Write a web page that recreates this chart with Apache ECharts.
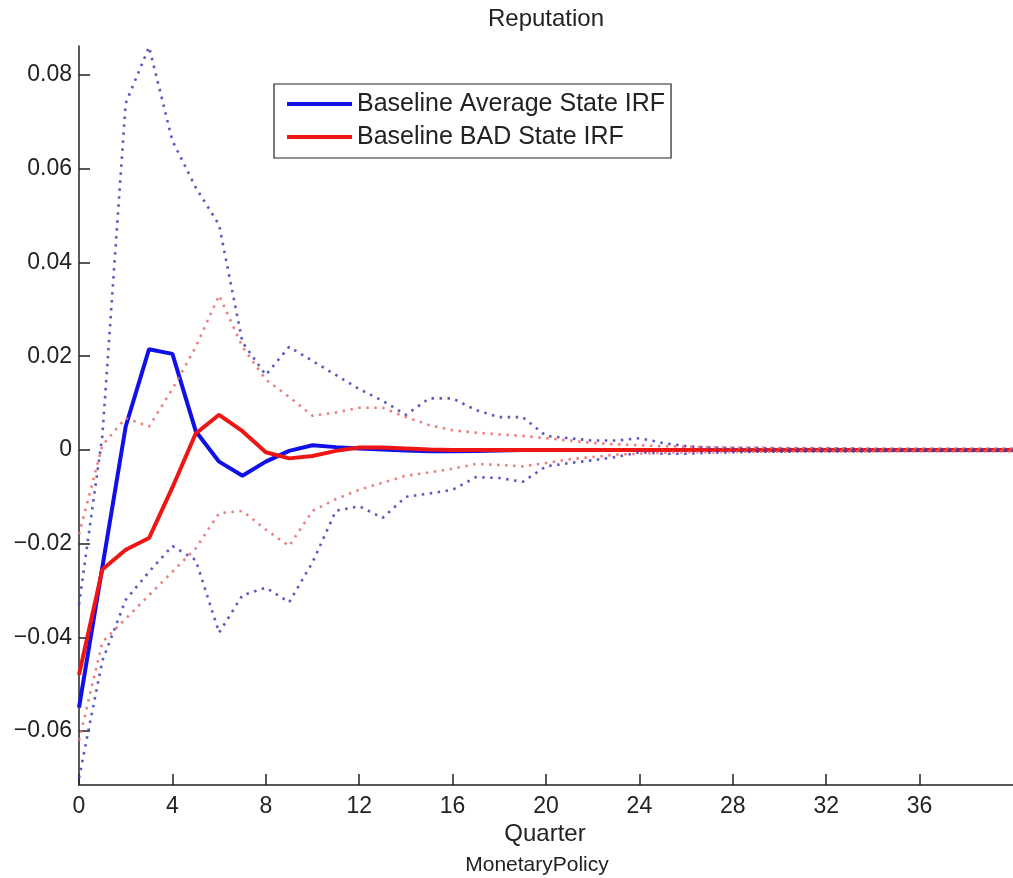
<!DOCTYPE html>
<html>
<head>
<meta charset="utf-8">
<script src="https://cdn.jsdelivr.net/npm/echarts@6/dist/echarts.min.js"></script>
<style>
html,body{margin:0;padding:0;background:#fff;}
#chart{width:1013px;height:878px;}
</style>
</head>
<body>
<div id="chart"></div>
<script>
// Quarters 0..40
const quarters = [0,1,2,3,4,5,6,7,8,9,10,11,12,13,14,15,16,17,18,19,20,21,22,23,24,25,26,27,28,29,30,31,32,33,34,35,36,37,38,39,40];

// Baseline Average State IRF (solid blue)
const avgIRF = [-0.055,-0.025,0.005,0.0215,0.0205,0.004,-0.0025,-0.0055,-0.0025,-0.0002,0.001,0.0006,0.0003,0.0001,-0.0001,-0.0003,-0.0003,-0.0002,-0.0001,0,0,0,0,0,0,0,0,0,0,0,0,0,0,0,0,0,0,0,0,0,0];
// Baseline BAD State IRF (solid red)
const badIRF = [-0.048,-0.0255,-0.0213,-0.0188,-0.008,0.0035,0.0075,0.004,-0.0005,-0.0018,-0.0013,-0.0002,0.0005,0.0005,0.0003,0.0001,0,0,0,0,0,0,0,0,0,0,0,0,0,0,0,0,0,0,0,0,0,0,0,0,0];

// Confidence bands (dotted)
const avgUpper = [-0.033,0.003,0.074,0.086,0.066,0.056,0.048,0.023,0.016,0.022,0.019,0.016,0.013,0.0105,0.0075,0.011,0.011,0.0085,0.007,0.007,0.003,0.0025,0.002,0.002,0.0025,0.0015,0.0008,0.0005,0.0004,0.0004,0.0003,0.0003,0.0003,0.0003,0.0002,0.0002,0.0002,0.0002,0.0002,0.0002,0.0002];
const avgLower = [-0.070,-0.045,-0.032,-0.026,-0.0205,-0.0235,-0.039,-0.031,-0.0294,-0.0325,-0.024,-0.013,-0.012,-0.0145,-0.010,-0.0093,-0.0085,-0.0058,-0.006,-0.0068,-0.0035,-0.0028,-0.0022,-0.0015,-0.0005,-0.0008,-0.0008,-0.0006,-0.0005,-0.0004,-0.0004,-0.0003,-0.0003,-0.0003,-0.0003,-0.0002,-0.0002,-0.0002,-0.0002,-0.0002,-0.0002];
const badUpper = [-0.018,0.001,0.0068,0.005,0.013,0.022,0.033,0.022,0.015,0.0113,0.0073,0.008,0.009,0.009,0.007,0.0053,0.0042,0.0037,0.0033,0.003,0.0025,0.002,0.0015,0.0012,0.001,0.0008,0.0007,0.0006,0.0005,0.0005,0.0004,0.0004,0.0004,0.0003,0.0003,0.0003,0.0003,0.0003,0.0003,0.0003,0.0003];
const badLower = [-0.062,-0.041,-0.036,-0.031,-0.026,-0.021,-0.0135,-0.013,-0.017,-0.0205,-0.013,-0.0105,-0.0085,-0.007,-0.0055,-0.0048,-0.004,-0.003,-0.0032,-0.0035,-0.0028,-0.002,-0.0015,-0.001,-0.0008,-0.0006,-0.0005,-0.0005,-0.0004,-0.0004,-0.0004,-0.0003,-0.0003,-0.0003,-0.0003,-0.0003,-0.0003,-0.0003,-0.0003,-0.0003,-0.0003];

const xTicks = [0,4,8,12,16,20,24,28,32,36];
const yTicks = [-0.06,-0.04,-0.02,0,0.02,0.04,0.06,0.08];

const titleText = 'Reputation';
const xName = 'Quarter';
const subName = 'MonetaryPolicy';
const legendNames = ['Baseline Average State IRF','Baseline BAD State IRF'];

const FONT = '"Liberation Sans", Arial, Helvetica, sans-serif';
const pair = a => quarters.map((q,i)=>[q,a[i]]);

const chart = echarts.init(document.getElementById('chart'));
const dotted = (name, data, color) => ({
  name, type:'line', data: pair(data), showSymbol:false, symbol:'none',
  lineStyle:{color, width:2.6, type:[2.5,5.5], opacity:0.85},
  z: 3, silent:true, animation:false, clip:true
});
chart.setOption({
  animation:false,
  backgroundColor:'#fff',
  grid:{left:79, top:46, width:942, height:739},
  legend:{
    data: legendNames,
    orient:'vertical', left:274, top:84,
    backgroundColor:'#fff', borderColor:'#222', borderWidth:1.2,
    padding:[6,6,7,13], itemGap:5,
    itemWidth:65, itemHeight:4, icon:'rect',
    selectedMode:false,
    textStyle:{fontFamily:FONT, fontSize:25, color:'#222', lineHeight:28}
  },
  xAxis:{
    type:'value', min:0, max:40,
    axisLine:{show:true, onZero:false, lineStyle:{color:'#222', width:1.5}},
    axisTick:{show:true, inside:true, length:11, customValues:xTicks, lineStyle:{color:'#222', width:1.5}},
    axisLabel:{customValues:xTicks, margin:10, fontFamily:FONT, fontSize:23, color:'#222'},
    splitLine:{show:false}
  },
  yAxis:{
    type:'value', min:-0.0715, max:0.0862,
    axisLine:{show:true, onZero:false, lineStyle:{color:'#222', width:1.5}},
    axisTick:{show:true, inside:true, length:11, customValues:yTicks, lineStyle:{color:'#222', width:1.5}},
    axisLabel:{customValues:yTicks, margin:7, fontFamily:FONT, fontSize:23, color:'#222',
      formatter: v => Math.abs(v) < 1e-9 ? '0' : (v < 0 ? '\u2212' : '') + Math.abs(v).toFixed(2)},
    splitLine:{show:false}
  },
  graphic:[
    {type:'text', style:{text:titleText, x:546, y:19, align:'center', verticalAlign:'middle', font:'24px '+FONT, fill:'#222'}},
    {type:'text', style:{text:xName, x:545, y:834, align:'center', verticalAlign:'middle', font:'24px '+FONT, fill:'#222'}},
    {type:'text', style:{text:subName, x:537, y:865, align:'center', verticalAlign:'middle', font:'21px '+FONT, fill:'#222'}}
  ],
  series:[
    {name:legendNames[0], type:'line', data:pair(avgIRF), showSymbol:false, symbol:'none',
      lineStyle:{color:'#1010e8', width:4}, itemStyle:{color:'#1010e8'}, z:2, clip:true},
    {name:legendNames[1], type:'line', data:pair(badIRF), showSymbol:false, symbol:'none',
      lineStyle:{color:'#ee1515', width:4}, itemStyle:{color:'#ee1515'}, z:2, clip:true},
    dotted('avgUpper', avgUpper, '#3c3cb4'),
    dotted('avgLower', avgLower, '#3c3cb4'),
    dotted('badUpper', badUpper, '#e86a6a'),
    dotted('badLower', badLower, '#e86a6a')
  ]
});
</script>
</body>
</html>
